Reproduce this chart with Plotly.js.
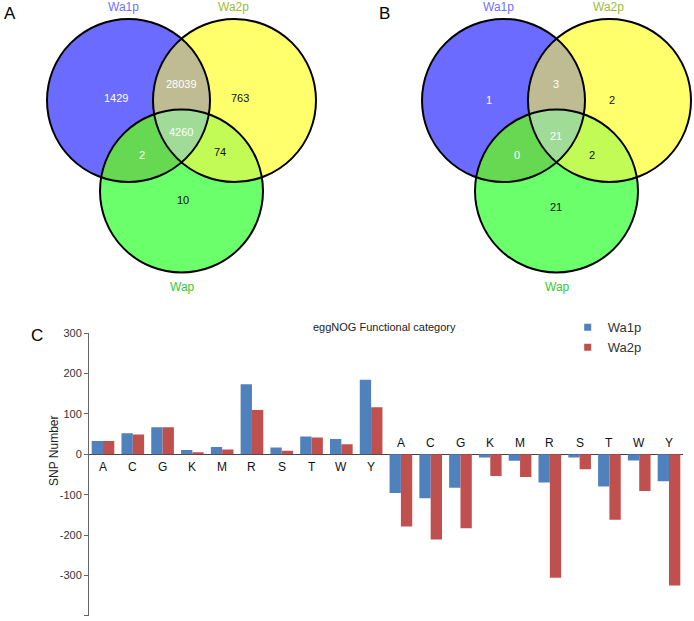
<!DOCTYPE html>
<html>
<head>
<meta charset="utf-8">
<script src="https://cdn.plot.ly/plotly-3.0.1.min.js"></script>
<style>
  html, body { margin: 0; padding: 0; background: #fff; }
  #graph { width: 694px; height: 621px; }
</style>
</head>
<body>
<div id="graph"></div>
<script>
// bar chart data (C)
var categories = ['A','C','G','K','M','R','S','T','W','Y','A','C','G','K','M','R','S','T','W','Y'];
var wa1p = [33, 52, 67, 11, 18, 174, 17, 44, 38, 185, -96, -109, -83, -8, -16, -70, -8, -80, -15, -67];
var wa2p = [33, 49, 67, 5, 12, 110, 9, 42, 25, 117, -179, -211, -183, -54, -56, -306, -37, -162, -91, -325];
var yTicks = [300, 200, 100, 0, -100, -200, -300, -400];

// venn counts (A and B), order: Wa1p only, Wa1p&Wa2p, Wa2p only, all three, Wa1p&Wap, Wa2p&Wap, Wap only
var setNames = ['Wa1p', 'Wa2p', 'Wap'];
var vennA = [1429, 28039, 763, 4260, 2, 74, 10];
var vennB = [1, 3, 2, 21, 0, 2, 21];

var W = 694, H = 621;
var font = 'Liberation Sans, Arial, sans-serif';

// venn geometry in pixels (local to each diagram)
var R = 81.5;
var centers = [[128.5, 100.5], [234.5, 100.5], [181.5, 191]];
var fills = ['#6B6BFF', '#FFFF6B', '#6BFF6B'];
var pairFill = {'01': '#BFBB93', '02': '#66D852', '12': '#C2FB55'};
var tripleFill = '#A0DB98';
var textCol = ['#fff', '#fff', '#111', '#fff', '#fff', '#111', '#111'];
var setCol = ['#7070FF', '#9DBB35', '#35C935'];
var setPos = [[123, 7], [233, 7], [182, 287]];
var numPosA = [[116, 98], [181, 84], [240, 98], [181, 132], [142, 155], [220, 152], [183, 200]];
var numPosB = [[114, 100], [181, 84], [237, 100], [181, 136], [142, 155], [217, 155], [181, 207]];

function circlePoly(c) {
    var pts = [];
    for (var i = 0; i < 180; i++) {
        var a = i / 180 * 2 * Math.PI;
        pts.push([c[0] + R * Math.cos(a), c[1] + R * Math.sin(a)]);
    }
    return pts;
}

// Sutherland-Hodgman against the polygonised circle c
function clip(subject, c) {
    var cp = circlePoly(c);
    var out = subject;
    for (var i = 0; i < cp.length; i++) {
        var a = cp[i], b = cp[(i + 1) % cp.length];
        var side = function(p) { return (b[0] - a[0]) * (p[1] - a[1]) - (b[1] - a[1]) * (p[0] - a[0]); };
        var sc = side(c);
        var input = out;
        out = [];
        for (var j = 0; j < input.length; j++) {
            var cur = input[j], prev = input[(j + input.length - 1) % input.length];
            var sCur = side(cur) * sc, sPrev = side(prev) * sc;
            if (sCur >= 0) {
                if (sPrev < 0) out.push(hit(prev, cur, a, b));
                out.push(cur);
            } else if (sPrev >= 0) {
                out.push(hit(prev, cur, a, b));
            }
        }
        if (!out.length) break;
    }
    return out;
}
function hit(p, q, a, b) {
    var d1x = q[0] - p[0], d1y = q[1] - p[1];
    var d2x = b[0] - a[0], d2y = b[1] - a[1];
    var den = d1x * d2y - d1y * d2x;
    var t = ((a[0] - p[0]) * d2y - (a[1] - p[1]) * d2x) / den;
    return [p[0] + t * d1x, p[1] + t * d1y];
}
function toPath(pts, ox) {
    return 'M' + pts.map(function(p) { return (p[0] + ox).toFixed(2) + ',' + p[1].toFixed(2); }).join('L') + 'Z';
}

var shapes = [];
var annotations = [];

function addVenn(ox, counts, numPos, letter, letterPos) {
    var cs = centers;
    cs.forEach(function(c, i) {
        shapes.push({type: 'circle', xref: 'x2', yref: 'y2', x0: c[0] - R + ox, x1: c[0] + R + ox,
            y0: c[1] - R, y1: c[1] + R, fillcolor: fills[i], line: {width: 0}});
    });
    [['0', '1'], ['0', '2'], ['1', '2']].forEach(function(pr) {
        var poly = clip(circlePoly(cs[+pr[0]]), cs[+pr[1]]);
        shapes.push({type: 'path', xref: 'x2', yref: 'y2', path: toPath(poly, ox),
            fillcolor: pairFill[pr[0] + pr[1]], line: {width: 0}});
    });
    var tri = clip(clip(circlePoly(cs[0]), cs[1]), cs[2]);
    shapes.push({type: 'path', xref: 'x2', yref: 'y2', path: toPath(tri, ox),
        fillcolor: tripleFill, line: {width: 0}});
    cs.forEach(function(c) {
        shapes.push({type: 'circle', xref: 'x2', yref: 'y2', x0: c[0] - R + ox, x1: c[0] + R + ox,
            y0: c[1] - R, y1: c[1] + R, fillcolor: 'rgba(0,0,0,0)', line: {color: '#000', width: 2}});
    });
    counts.forEach(function(v, i) {
        annotations.push({xref: 'x2', yref: 'y2', x: numPos[i][0] + ox, y: numPos[i][1], text: String(v),
            showarrow: false, font: {family: font, size: 11, color: textCol[i]}});
    });
    setNames.forEach(function(s, i) {
        annotations.push({xref: 'x2', yref: 'y2', x: setPos[i][0] + ox, y: setPos[i][1], text: s,
            showarrow: false, font: {family: font, size: 12, color: setCol[i]}});
    });
    annotations.push({xref: 'x2', yref: 'y2', x: letterPos[0], y: letterPos[1], text: letter,
        showarrow: false, font: {family: font, size: 17, color: '#000'}});
}

addVenn(0, vennA, numPosA, 'A', [10, 13]);
addVenn(375, vennB, numPosB, 'B', [384, 13]);

// bar chart labels
categories.forEach(function(c, i) {
    annotations.push({xref: 'x', yref: 'y', x: i, y: 0, text: c, showarrow: false,
        yshift: wa1p[i] >= 0 ? -13 : 11, font: {family: font, size: 12, color: '#111'}});
});
annotations.push({xref: 'x2', yref: 'y2', x: 384, y: 327, text: 'eggNOG Functional category',
    showarrow: false, font: {family: font, size: 11, color: '#222'}});
annotations.push({xref: 'x2', yref: 'y2', x: 54, y: 451, text: 'SNP Number', textangle: -90,
    showarrow: false, font: {family: font, size: 12, color: '#222'}});
annotations.push({xref: 'x2', yref: 'y2', x: 37, y: 335, text: 'C',
    showarrow: false, font: {family: font, size: 17, color: '#000'}});

var xs = categories.map(function(c, i) { return i; });

var data = [
    {type: 'bar', x: xs, y: wa1p, name: 'Wa1p', marker: {color: '#4F81BD'}, showlegend: false},
    {type: 'bar', x: xs, y: wa2p, name: 'Wa2p', marker: {color: '#C0504D'}, showlegend: false},
    {type: 'scatter', mode: 'markers', x: [null], y: [null], name: 'Wa1p',
        marker: {symbol: 'square', size: 7, color: '#4F81BD'}},
    {type: 'scatter', mode: 'markers', x: [null], y: [null], name: 'Wa2p',
        marker: {symbol: 'square', size: 7, color: '#C0504D'}},
    {type: 'scatter', x: [], y: [], xaxis: 'x2', yaxis: 'y2', showlegend: false, hoverinfo: 'skip'}
];

var layout = {
    width: W,
    height: H,
    margin: {l: 0, r: 0, t: 0, b: 0},
    paper_bgcolor: '#fff',
    plot_bgcolor: 'rgba(0,0,0,0)',
    font: {family: font, size: 11, color: '#333'},
    barmode: 'group',
    bargap: 0.24,
    bargroupgap: 0,
    showlegend: true,
    legend: {x: 0.818, y: 0.497, xanchor: 'left', yanchor: 'top', font: {size: 13, color: '#333'},
        bgcolor: 'rgba(0,0,0,0)', tracegroupgap: 0, itemwidth: 30},
    xaxis: {domain: [89 / W, 683 / W], range: [-0.47, 19.47], showgrid: false, zeroline: false,
        showline: false, showticklabels: false, ticks: ''},
    yaxis: {domain: [(H - 615.7) / H, (H - 333.3) / H], range: [-400, 300], showgrid: false,
        zeroline: true, zerolinecolor: '#444', zerolinewidth: 1,
        showline: true, linecolor: '#666', linewidth: 1, ticks: 'outside', ticklen: 4, tickcolor: '#666',
        tickvals: yTicks, ticktext: yTicks.map(String), tickfont: {size: 11, color: '#333'}},
    xaxis2: {domain: [0, 1], range: [0, W], visible: false, anchor: 'y2', fixedrange: true},
    yaxis2: {domain: [0, 1], range: [H, 0], visible: false, anchor: 'x2', fixedrange: true},
    shapes: shapes,
    annotations: annotations
};

Plotly.newPlot('graph', data, layout, {staticPlot: true});
</script>
</body>
</html>
